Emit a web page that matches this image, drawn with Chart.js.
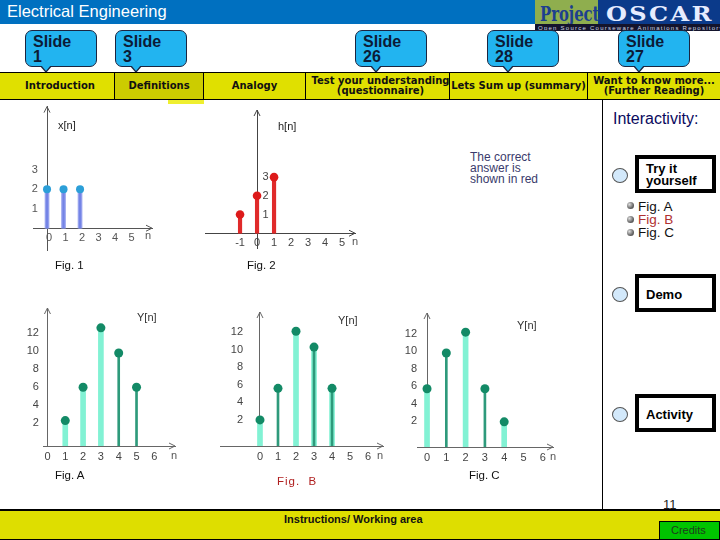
<!DOCTYPE html>
<html><head><meta charset="utf-8">
<script src="https://cdn.jsdelivr.net/npm/chart.js@4.4.1/dist/chart.umd.min.js"></script>
<style>
html,body{margin:0;padding:0;background:#fff;}
#slide{position:relative;width:720px;height:540px;overflow:hidden;font-family:"Liberation Sans",Arial,sans-serif;background:#fff;}
.a{position:absolute;white-space:nowrap;line-height:1;}
canvas{position:absolute;}
.call{position:absolute;top:30px;width:72px;height:37px;background:#22B4F0;border:1px solid #1b2540;border-radius:7px;box-sizing:border-box;}
.call .tx{position:absolute;left:7px;top:3px;font:bold 16px/15px "Liberation Sans",Arial,sans-serif;color:#0c1b36;white-space:pre;}
.call:before{content:"";position:absolute;left:14px;bottom:-7px;border-left:6px solid transparent;border-right:6px solid transparent;border-top:7px solid #1b2540;}
.call:after{content:"";position:absolute;left:15px;bottom:-5px;border-left:5px solid transparent;border-right:5px solid transparent;border-top:6px solid #22B4F0;}
#nav{position:absolute;left:0;top:72px;width:720px;height:28px;background:#E0E000;border-top:1px solid #000;border-bottom:1px solid #000;box-sizing:border-box;}
.cell{position:absolute;top:0;height:26px;border-right:1px solid #000;box-sizing:border-box;font:bold 10px/10.5px "DejaVu Sans",Verdana,sans-serif;color:#111;display:flex;align-items:center;justify-content:center;text-align:center;white-space:nowrap;}
.box{position:absolute;left:635px;width:81px;height:38px;border:4px solid #000;box-sizing:border-box;background:#fff;font:bold 13px/12px "Liberation Sans",Arial,sans-serif;color:#000;}
.circ{position:absolute;left:612px;width:16px;height:15px;border-radius:50%;background:#d3e9fb;border:1px solid #555;box-sizing:border-box;}
.bul{position:absolute;left:627px;width:7px;height:7px;border-radius:50%;background:radial-gradient(circle at 35% 35%,#ddd,#666 60%,#333);}
</style></head>
<body><div id="slide">

<!-- header -->
<div class="a" style="left:0;top:0;width:720px;height:24px;background:#0070C0"></div>
<div class="a" style="left:7px;top:3px;color:#fff;font-size:16.5px;">Electrical Engineering</div>
<div class="a" style="left:535px;top:0;width:185px;height:31px;background:#0b3a8a"></div>
<div class="a" style="left:535px;top:0;width:63px;height:24px;background:#8fae4e"></div>
<div class="a" style="left:540px;top:2px;font:bold 20px 'DejaVu Serif',serif;color:#1d3f8f;transform:scaleX(0.74);transform-origin:left top;">Project</div>
<div class="a" style="left:606px;top:2px;font:bold 20px 'DejaVu Serif',serif;color:#e6ecff;letter-spacing:2px;transform:scaleX(1.2);transform-origin:left top;">OSCAR</div>
<div class="a" style="left:535px;top:24px;width:185px;height:7px;background:#14142c"></div>
<div class="a" style="left:538px;top:24.5px;font-size:6px;color:#d0d6e6;letter-spacing:1.25px;">Open Source Courseware Animations Repository</div>

<!-- slide callouts -->
<div class="call" style="left:25px"><div class="tx">Slide
1</div></div>
<div class="call" style="left:115px"><div class="tx">Slide
3</div></div>
<div class="call" style="left:355px"><div class="tx">Slide
26</div></div>
<div class="call" style="left:487px"><div class="tx">Slide
28</div></div>
<div class="call" style="left:618px"><div class="tx">Slide
27</div></div>

<!-- nav -->
<div id="nav">
  <div class="cell" style="left:0;width:115px;padding-left:6px;">Introduction</div>
  <div class="cell" style="left:115px;width:89px;background:#CCCC00;">Definitions</div>
  <div class="cell" style="left:204px;width:102px;">Analogy</div>
  <div class="cell" style="left:306px;width:144px;overflow:visible;padding-left:6px;">Test your understanding<br>(questionnaire)</div>
  <div class="cell" style="left:450px;width:138px;">Lets Sum up (summary)</div>
  <div class="cell" style="left:588px;width:132px;border-right:none;">Want to know more...<br>(Further Reading)</div>
</div>
<div class="a" style="left:168px;top:100px;width:36px;height:4px;background:#EFEF30"></div>

<!-- divider -->
<div class="a" style="left:602px;top:100px;width:1px;height:410px;background:#000"></div>

<!-- right panel -->
<div class="a" style="left:613px;top:111px;font-size:16px;color:#0a0a5e;">Interactivity:</div>
<div class="a" style="left:470px;top:152px;font-size:12px;line-height:11px;color:#3a3a6c;white-space:pre;">The correct
answer is
shown in red</div>

<div class="circ" style="top:168px"></div>
<div class="box" style="top:155px;padding:4px 0 0 7px;">Try it<br>yourself</div>
<div class="bul" style="top:202px"></div>
<div class="bul" style="top:216px"></div>
<div class="bul" style="top:229px"></div>
<div class="a" style="left:638px;top:200px;font-size:13.5px;color:#111;">Fig. A</div>
<div class="a" style="left:638px;top:213px;font-size:13.5px;color:#b03030;">Fig. B</div>
<div class="a" style="left:638px;top:226px;font-size:13.5px;color:#111;">Fig. C</div>

<div class="circ" style="top:287px"></div>
<div class="box" style="top:274px;padding:11px 0 0 7px;">Demo</div>
<div class="circ" style="top:407px"></div>
<div class="box" style="top:394px;padding:11px 0 0 7px;">Activity</div>

<!-- charts -->
<canvas id="cx" width="180" height="160" style="left:0;top:100px"></canvas>
<canvas id="ch" width="180" height="160" style="left:190px;top:100px"></canvas>
<canvas id="ca" width="190" height="175" style="left:0;top:295px"></canvas>
<canvas id="cb" width="190" height="175" style="left:200px;top:295px"></canvas>
<canvas id="cc" width="180" height="175" style="left:395px;top:295px"></canvas>

<!-- axis names and captions -->
<div class="a" style="left:58px;top:120px;font-size:11px;color:#222;">x[n]</div>
<div class="a" style="left:145px;top:230px;font-size:11px;color:#555;">n</div>
<div class="a" style="left:278px;top:121px;font-size:11px;color:#222;">h[n]</div>
<div class="a" style="left:352px;top:236px;font-size:11px;color:#555;">n</div>
<div class="a" style="left:55px;top:260px;font-size:11.5px;color:#111;">Fig. 1</div>
<div class="a" style="left:247px;top:260px;font-size:11.5px;color:#111;">Fig. 2</div>

<div class="a" style="left:137px;top:312px;font-size:11px;color:#333;">Y[n]</div>
<div class="a" style="left:171px;top:450px;font-size:11px;color:#555;">n</div>
<div class="a" style="left:338px;top:315px;font-size:11px;color:#333;">Y[n]</div>
<div class="a" style="left:377px;top:450px;font-size:11px;color:#555;">n</div>
<div class="a" style="left:517px;top:320px;font-size:11px;color:#333;">Y[n]</div>
<div class="a" style="left:550px;top:451px;font-size:11px;color:#555;">n</div>
<div class="a" style="left:55px;top:470px;font-size:11.5px;color:#111;">Fig. A</div>
<div class="a" style="left:277px;top:476px;font-size:11.5px;color:#b02020;letter-spacing:1px;">Fig.&nbsp; B</div>
<div class="a" style="left:469px;top:470px;font-size:11.5px;color:#111;">Fig. C</div>

<!-- bottom -->
<div class="a" style="left:663px;top:498px;font-size:13px;color:#222;">11</div>
<div class="a" style="left:0;top:509px;width:720px;height:31px;background:#DEDE00;border-top:2px solid #000;border-bottom:1px solid #000;box-sizing:border-box;"></div>
<div class="a" style="left:284px;top:513px;font:bold 11px 'Liberation Sans Narrow','Liberation Sans',Arial,sans-serif;color:#111;">Instructions/ Working area</div>
<div class="a" style="left:659px;top:521px;width:61px;height:19px;background:#00C400;border:1px solid #000;box-sizing:border-box;"></div>
<div class="a" style="left:671px;top:525px;font-size:11px;color:#1d3d1d;">Credits</div>

</div>
<script>
// ---- data ----
const XN_N = [0, 1, 2];
const XN_VALUES = [2, 2, 2];
const XN_XTICKS = [0, 1, 2, 3, 4, 5];
const XN_YTICKS = [1, 2, 3];

const HN_N = [-1, 0, 1];
const HN_VALUES = [1, 2, 3];
const HN_XTICKS = [-1, 0, 1, 2, 3, 4, 5];
const HN_YTICKS = [1, 2, 3];

const FIGA_N = [1, 2, 3, 4, 5];
const FIGA_VALUES = [2.3, 6, 12.6, 9.8, 6];
const FIGB_N = [0, 1, 2, 3, 4];
const FIGB_VALUES = [2, 5.6, 12.1, 10.3, 5.6];
const FIGC_N = [0, 1, 2, 3, 4];
const FIGC_VALUES = [5.7, 9.8, 12.2, 5.7, 1.9];
const FIG_XTICKS = [0, 1, 2, 3, 4, 5, 6];
const FIG_YTICKS = [2, 4, 6, 8, 10, 12];

// ---- chart helpers ----
const arrowPlugin = {
  id: 'axisArrows',
  afterDraw(chart, args, opts) {
    const {ctx, chartArea: ca, scales} = chart;
    const yPix = scales.y.getPixelForValue(opts.xAxisAt);
    const xPix = scales.x.getPixelForValue(0);
    ctx.save();
    ctx.strokeStyle = opts.color; ctx.lineWidth = 1;
    ctx.beginPath();
    ctx.moveTo(ca.right - 6, yPix - 3); ctx.lineTo(ca.right, yPix); ctx.lineTo(ca.right - 6, yPix + 3);
    ctx.moveTo(xPix - 3, ca.top + 6); ctx.lineTo(xPix, ca.top); ctx.lineTo(xPix + 3, ca.top + 6);
    ctx.stroke();
    ctx.restore();
  }
};

function setTicks(arr) { return s => { s.ticks = arr.map(v => ({value: v})); }; }

function stemChart(id, o) {
  const pts = o.n.map((n, i) => ({x: n, y: o.v[i]}));
  const tickFont = {family: 'Liberation Sans', size: 11};
  const noGrid = {display: false, drawTicks: false};
  const scales = {
    x: {type: 'linear', offset: false, min: o.xmin, max: o.xmax, position: {y: o.xAxisAt},
        grid: noGrid, border: {color: o.axisColor, width: 1},
        ticks: {font: tickFont, color: o.tickColor, padding: o.xPad, autoSkip: false, maxRotation: 0, labelOffset: o.xLabelOffset || 0},
        afterBuildTicks: setTicks(o.xticks)},
    y: {type: 'linear', offset: false, min: o.ymin, max: o.ymax, position: {x: 0},
        grid: noGrid, border: {color: o.axisColor, width: 1},
        ticks: {display: false},
        afterBuildTicks: setTicks(o.yticks)},
    // tick labels of the value axis, placed where the figure prints them
    yl: {type: 'linear', axis: 'y', offset: false, min: o.ymin, max: o.ymax, position: {x: o.yLabelAt},
        grid: noGrid, border: {display: false},
        ticks: {font: tickFont, color: o.tickColor, padding: 0, autoSkip: false},
        afterBuildTicks: setTicks(o.yticks)}
  };
  const datasets = [
    {type: 'scatter', data: pts, xAxisID: 'x', yAxisID: 'y', pointRadius: o.r, pointHoverRadius: o.r,
     pointBackgroundColor: o.markerColor, pointBorderWidth: 0, order: 0},
    {type: 'bar', data: pts, xAxisID: 'x', yAxisID: 'y', grouped: false, base: o.xAxisAt,
     barThickness: o.thinW, backgroundColor: c => o.thin[c.dataIndex] ? o.thinColor : 'rgba(0,0,0,0)', order: 1},
    {type: 'bar', data: pts, xAxisID: 'x', yAxisID: 'y', grouped: false, base: o.xAxisAt,
     barThickness: o.wideW, backgroundColor: c => o.wide[c.dataIndex] ? o.wideColor : 'rgba(0,0,0,0)', order: 2}
  ];
  return new Chart(document.getElementById(id), {
    type: 'bar',
    data: {datasets},
    options: {
      responsive: false, animation: false, devicePixelRatio: 1,
      layout: {padding: o.pad},
      scales,
      plugins: {legend: {display: false}, tooltip: {enabled: false},
                axisArrows: {xAxisAt: o.xAxisAt, color: o.axisColor}}
    },
    plugins: [arrowPlugin]
  });
}

// Fig. 1  x[n]
stemChart('cx', {
  n: XN_N, v: XN_VALUES, xticks: XN_XTICKS, yticks: XN_YTICKS,
  xmin: -0.85, xmax: 6.36, ymin: -1.12, ymax: 6.24, xAxisAt: 0, yLabelAt: -0.55,
  pad: {left: 33, right: 28, top: 5, bottom: 10},
  axisColor: '#555', tickColor: '#555', xPad: 3, xLabelOffset: 2,
  r: 4, markerColor: '#2C9FD8',
  wide: [true, true, true], wideW: 4, wideColor: '#97A3EE',
  thin: [true, true, true], thinW: 1.5, thinColor: '#7484E6'
});

// Fig. 2  h[n]
stemChart('ch', {
  n: HN_N, v: HN_VALUES, xticks: HN_XTICKS, yticks: HN_YTICKS,
  xmin: -3.06, xmax: 5.76, ymin: -0.79, ymax: 6.59, xAxisAt: 0, yLabelAt: 0.68,
  pad: {left: 15, right: 15, top: 10, bottom: 12},
  axisColor: '#444', tickColor: '#444', xPad: 3,
  r: 4.3, markerColor: '#DD1A1A',
  wide: [true, true, true], wideW: 3.5, wideColor: '#E02A2A',
  thin: [false, false, false], thinW: 1, thinColor: '#E02A2A'
});

const FIG_STYLE = {
  axisColor: '#666', tickColor: '#444', xPad: 4,
  r: 4.5, markerColor: '#138A66', wideW: 5, wideColor: '#82F2D4', thinW: 2, thinColor: '#2E9A7B'
};

stemChart('ca', Object.assign({}, FIG_STYLE, {
  n: FIGA_N, v: FIGA_VALUES, xticks: FIG_XTICKS, yticks: FIG_YTICKS,
  xmin: -0.25, xmax: 7.16, ymin: -0.52, ymax: 14.8, xAxisAt: -0.52, yLabelAt: -0.48,
  pad: {left: 43, right: 15, top: 13, bottom: 24},
  wide: [true, true, true, false, false], thin: [false, false, false, true, true]
}));

stemChart('cb', Object.assign({}, FIG_STYLE, {
  n: FIGB_N, v: FIGB_VALUES, xticks: FIG_XTICKS, yticks: FIG_YTICKS,
  xmin: -2.22, xmax: 6.83, ymin: -0.97, ymax: 14.3, xAxisAt: -0.97, yLabelAt: -0.94,
  pad: {left: 20, right: 7, top: 17, bottom: 24},
  wide: [true, false, true, true, true], thin: [false, true, false, true, true]
}));

stemChart('cc', Object.assign({}, FIG_STYLE, {
  n: FIGC_N, v: FIGC_VALUES, xticks: FIG_XTICKS, yticks: FIG_YTICKS,
  xmin: -0.52, xmax: 6.53, ymin: -0.99, ymax: 14.4, xAxisAt: -0.99, yLabelAt: -0.52,
  pad: {left: 22, right: 22, top: 18, bottom: 23},
  wide: [true, false, true, false, true], thin: [false, true, false, true, false]
}));
</script>
</body></html>
